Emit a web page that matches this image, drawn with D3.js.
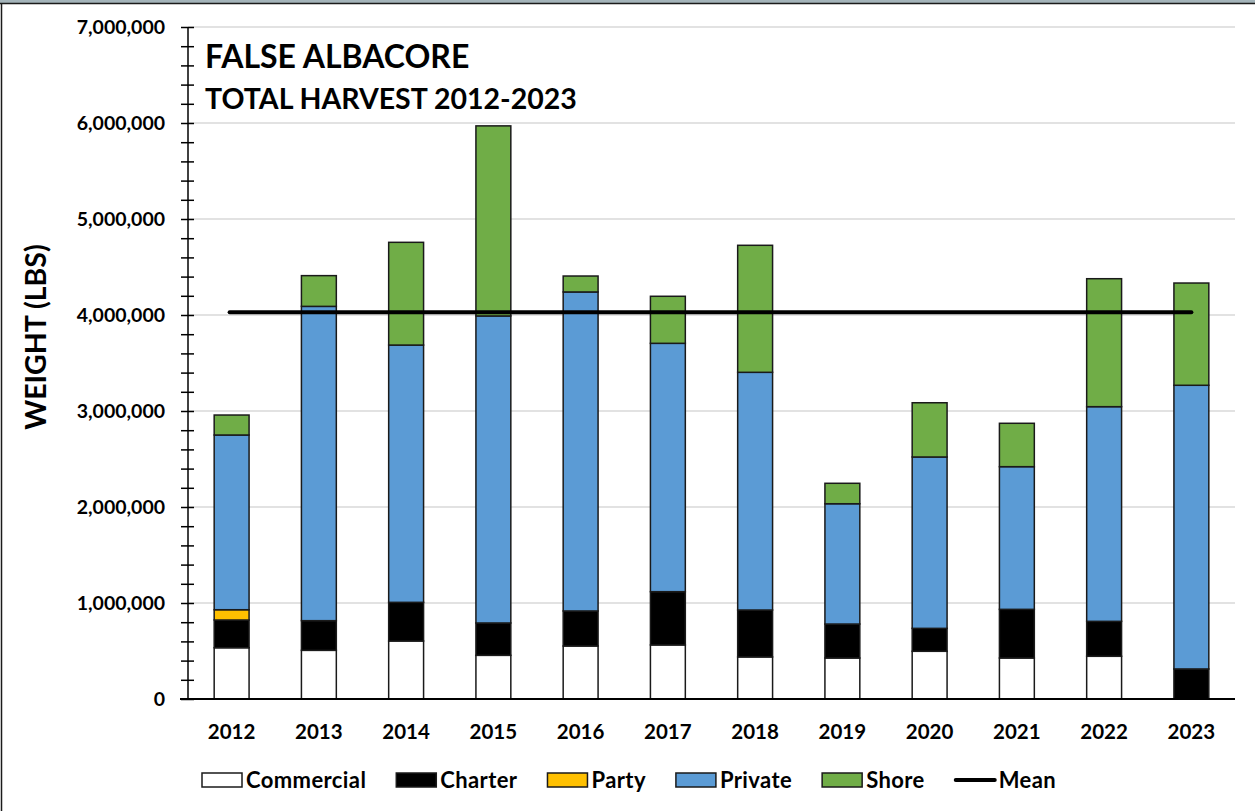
<!DOCTYPE html>
<html>
<head>
<meta charset="utf-8">
<script src="https://cdn.jsdelivr.net/npm/d3@7"></script>
<style>
  body { margin: 0; background: #fff; }
  svg text { font-family: Lato, "Open Sans", sans-serif; font-weight: bold; fill: #000; }
</style>
</head>
<body>
<div id="chartDiv"></div>
<script>
// values, lbs
var years = ["2012","2013","2014","2015","2016","2017","2018","2019","2020","2021","2022","2023"];
var commercial = [534000, 507000, 604000, 455000, 552000, 563000, 438000, 427000, 497000, 427000, 445000, 0];
var charter    = [289000, 309000, 403000, 337000, 365000, 555000, 489000, 354000, 239000, 507000, 364000, 313000];
var party      = [107000, 0, 0, 0, 0, 0, 0, 0, 0, 0, 0, 0];
var privateB   = [1820000, 3274000, 2680000, 3198000, 3323000, 2587000, 2476000, 1253000, 1785000, 1486000, 2236000, 2955000];
var shore      = [208000, 320000, 1070000, 1980000, 166000, 490000, 1323000, 213000, 565000, 452000, 1333000, 1065000];

var seriesNames = ["Commercial", "Charter", "Party", "Private", "Shore"];
var seriesColors = ["#ffffff", "#000000", "#ffc000", "#5b9bd5", "#70ad47"];
var yTicks = [0, 1000000, 2000000, 3000000, 4000000, 5000000, 6000000, 7000000];

var W = 1255, H = 811;
var margin = {top: 27, right: 20, bottom: 112, left: 188};

var svg = d3.select("#chartDiv").append("svg")
    .attr("width", W)
    .attr("height", H);

// frame
svg.append("rect").attr("x", 0).attr("y", 0).attr("width", W).attr("height", 3).attr("fill", "#a4b4ba");
svg.append("line").attr("x1", 0).attr("x2", W).attr("y1", 3.5).attr("y2", 3.5).attr("stroke", "#1b1b1b").attr("stroke-width", 1.5);
svg.append("line").attr("x1", 1.5).attr("x2", 1.5).attr("y1", 3).attr("y2", H).attr("stroke", "#1b1b1b").attr("stroke-width", 1.5);

var table = years.map(function(y, i) {
  return {year: y, Commercial: commercial[i], Charter: charter[i], Party: party[i], Private: privateB[i], Shore: shore[i]};
});
var totals = table.map(function(d) { return d3.sum(seriesNames, function(k) { return d[k]; }); });
var meanVal = d3.mean(totals);

var x = d3.scaleBand()
    .domain(years)
    .range([margin.left, W - margin.right])
    .paddingInner(0.6)
    .paddingOuter(0.3);

var y = d3.scaleLinear()
    .domain([0, 7000000])
    .range([H - margin.bottom, margin.top]);

// gridlines
svg.append("g").selectAll("line").data(yTicks.slice(1)).enter()
  .append("line")
    .attr("x1", margin.left).attr("x2", W - margin.right)
    .attr("y1", function(d) { return y(d); }).attr("y2", function(d) { return y(d); })
    .attr("stroke", "#d9d9d9").attr("stroke-width", 1.5);

// y axis with minor ticks crossing the line
var yAxis = svg.append("g").attr("transform", "translate(" + margin.left + ",0)");
yAxis.call(d3.axisLeft(y).tickValues(d3.range(0, 7000001, 200000)).tickSize(7).tickFormat(""));
yAxis.selectAll(".tick line").attr("x2", -7).attr("x1", 6).attr("stroke", "#000").attr("stroke-width", 1.5);
yAxis.select(".domain").remove();
yAxis.append("line").attr("x1", 0).attr("x2", 0).attr("y1", y(7000000)).attr("y2", y(0))
    .attr("stroke", "#000").attr("stroke-width", 1.5);

svg.append("g").selectAll("text").data(yTicks).enter()
  .append("text")
    .attr("x", 165)
    .attr("y", function(d) { return y(d); })
    .attr("dy", "0.36em")
    .attr("text-anchor", "end")
    .style("font-size", "19.5px")
    .text(function(d) { return d3.format(",")(d); });

// stacked bars
var stack = d3.stack().keys(seriesNames)(table);
svg.append("g").selectAll("g").data(stack).enter()
  .append("g")
    .attr("fill", function(d, i) { return seriesColors[i]; })
  .selectAll("rect")
  .data(function(d) { return d.filter(function(s) { return s[1] - s[0] > 0; }); })
  .enter().append("rect")
    .attr("x", function(d) { return x(d.data.year); })
    .attr("width", x.bandwidth())
    .attr("y", function(d) { return y(d[1]); })
    .attr("height", function(d) { return y(d[0]) - y(d[1]); })
    .attr("stroke", "#1a1a1a")
    .attr("stroke-width", 1.5);

// x axis line
svg.append("line")
    .attr("x1", margin.left - 8).attr("x2", W - margin.right)
    .attr("y1", y(0)).attr("y2", y(0))
    .attr("stroke", "#000").attr("stroke-width", 2);

svg.append("g").selectAll("text").data(years).enter()
  .append("text")
    .attr("x", function(d) { return x(d) + x.bandwidth() / 2; })
    .attr("y", 739)
    .attr("text-anchor", "middle")
    .style("font-size", "20.5px")
    .text(function(d) { return d; });

// mean line
svg.append("line")
    .attr("x1", x(years[0]) + x.bandwidth() / 2 - 2)
    .attr("x2", x(years[years.length - 1]) + x.bandwidth() / 2)
    .attr("y1", y(meanVal)).attr("y2", y(meanVal))
    .attr("stroke", "#000").attr("stroke-width", 4).attr("stroke-linecap", "round");

// titles
svg.append("text").attr("x", 205).attr("y", 68).style("font-size", "32px").text("FALSE ALBACORE");
svg.append("text").attr("x", 205).attr("y", 109).style("font-size", "28.5px").text("TOTAL HARVEST 2012-2023");

svg.append("text")
    .attr("transform", "translate(46,337) rotate(-90)")
    .attr("text-anchor", "middle")
    .style("font-size", "28.5px")
    .text("WEIGHT (LBS)");

// legend
var legend = svg.append("g");
var lx = 202, ly = 780;
seriesNames.concat(["Mean"]).forEach(function(name, i) {
  if (name == "Mean") {
    legend.append("line").attr("x1", lx + 1).attr("x2", lx + 40).attr("y1", ly).attr("y2", ly)
      .attr("stroke", "#000").attr("stroke-width", 4).attr("stroke-linecap", "round");
  } else {
    legend.append("rect").attr("x", lx).attr("y", ly - 7).attr("width", 40).attr("height", 14)
      .attr("fill", seriesColors[i]).attr("stroke", "#1a1a1a").attr("stroke-width", 1.5);
  }
  var t = legend.append("text").attr("x", lx + 44).attr("y", ly).attr("dy", "0.36em")
    .style("font-size", "22px").style("letter-spacing", "0.4px").text(name);
  lx += 44 + t.node().getComputedTextLength() + 30;
});
</script>
</body>
</html>
